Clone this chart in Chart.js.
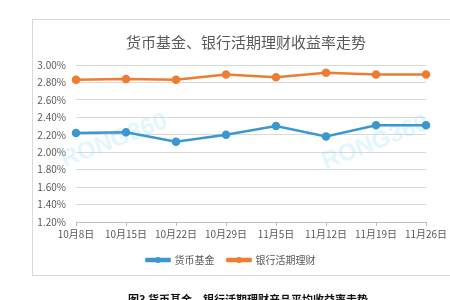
<!DOCTYPE html>
<html>
<head>
<meta charset="utf-8">
<script src="https://cdn.jsdelivr.net/npm/chart.js@4/dist/chart.umd.min.js"></script>
<style>
  html, body { margin: 0; padding: 0; background: #ffffff; }
  body { width: 450px; height: 300px; position: relative; overflow: hidden; }
  #frame { position: absolute; left: 32px; top: 19px; width: 430px; height: 257px;
           border: 1px solid #d9d9d9; box-sizing: border-box; }
  #wrap { position: absolute; left: 0; top: 0; width: 450px; height: 300px; }
  #caption { position: absolute; left: 0; width: 496px; top: 291px; text-align: center;
             font: bold 11px "Noto Sans CJK SC", sans-serif; color: #111; }
</style>
</head>
<body>
<div id="frame"></div>
<div id="wrap"><canvas id="c" width="450" height="300"></canvas></div>
<div id="caption">图3 货币基金、银行活期理财产品平均收益率走势</div>
<script>
// Weekly dates
const categories = ['10月8日', '10月15日', '10月22日', '10月29日', '11月5日', '11月12日', '11月19日', '11月26日'];
// Yields, percent
const moneyFund = [2.22, 2.23, 2.12, 2.20, 2.30, 2.18, 2.31, 2.31];
const bankDemand = [2.83, 2.84, 2.83, 2.89, 2.86, 2.91, 2.89, 2.89];
const seriesNames = ['货币基金', '银行活期理财'];
const chartTitle = '货币基金、银行活期理财收益率走势';
const yMin = 1.2, yMax = 3.0, yStep = 0.2;

const BLUE = '#3a98cf';
const ORANGE = '#ee7d31';
const CJK = '"Noto Sans CJK SC", "Noto Sans", sans-serif';

// Title centred on the bordered frame rather than the plot
const frameTitle = {
  id: 'frameTitle',
  afterDraw(chart) {
    const ctx = chart.ctx;
    ctx.save();
    ctx.font = '15px ' + CJK;
    ctx.fillStyle = '#595959';
    ctx.textAlign = 'center';
    ctx.textBaseline = 'middle';
    ctx.fillText(chartTitle, 246, 42);
    ctx.restore();
  }
};

// Faint diagonal watermark text behind the lines
const watermark = {
  id: 'watermark',
  beforeDatasetsDraw(chart) {
    const ctx = chart.ctx;
    ctx.save();
    ctx.font = 'bold 24px "Liberation Sans", sans-serif';
    ctx.fillStyle = 'rgba(120, 215, 245, 0.22)';
    [[62, 161], [323, 163]].forEach(([x, y]) => {
      ctx.save();
      ctx.translate(x, y);
      ctx.rotate(-0.37);
      ctx.fillText('RONG360', 0, 0);
      ctx.restore();
    });
    ctx.restore();
  }
};

// Adds a dot on each legend line sample
const legendDots = {
  id: 'legendDots',
  afterDraw(chart) {
    const lg = chart.legend;
    if (!lg || !lg.legendHitBoxes) return;
    const ctx = chart.ctx;
    const bw = lg.options.labels.boxWidth;
    lg.legendHitBoxes.forEach((hb, i) => {
      const ds = chart.data.datasets[i];
      ctx.save();
      ctx.fillStyle = ds.borderColor;
      ctx.beginPath();
      ctx.arc(hb.left + bw / 2, hb.top + hb.height / 2, 3, 0, Math.PI * 2);
      ctx.fill();
      ctx.restore();
    });
  }
};

new Chart(document.getElementById('c'), {
  type: 'line',
  data: {
    labels: categories,
    datasets: [
      { label: seriesNames[0], data: moneyFund, borderColor: BLUE, backgroundColor: BLUE,
        pointBackgroundColor: BLUE, pointBorderColor: BLUE, borderWidth: 2.5, pointRadius: 3, tension: 0 },
      { label: seriesNames[1], data: bankDemand, borderColor: ORANGE, backgroundColor: ORANGE,
        pointBackgroundColor: ORANGE, pointBorderColor: ORANGE, borderWidth: 2.5, pointRadius: 3, tension: 0 }
    ]
  },
  options: {
    responsive: false,
    animation: false,
    devicePixelRatio: 1,
    layout: { padding: { left: 36, right: 24, top: 65, bottom: 25 } },
    plugins: {
      title: { display: false },
      legend: {
        position: 'bottom',
        labels: {
          color: '#595959',
          font: { family: CJK, size: 10 },
          boxWidth: 23,
          boxHeight: 2,
          padding: 13
        }
      },
      tooltip: { enabled: false }
    },
    scales: {
      x: {
        offset: false,
        grid: { display: true, drawOnChartArea: false, drawTicks: true, tickLength: 4, color: '#bfbfbf' },
        border: { display: true, color: '#bfbfbf' },
        ticks: { color: '#595959', font: { family: CJK, size: 10 }, maxRotation: 0, autoSkip: false, padding: 2 }
      },
      y: {
        min: yMin, max: yMax,
        afterFit(scale) { scale.width = 40; },
        grid: { color: '#d9d9d9', drawTicks: false },
        border: { display: false },
        ticks: { stepSize: yStep, color: '#595959', font: { family: CJK, size: 10 }, padding: 10,
                 callback: v => v.toFixed(2) + '%' }
      }
    }
  },
  plugins: [watermark, legendDots, frameTitle]
});
</script>
</body>
</html>
